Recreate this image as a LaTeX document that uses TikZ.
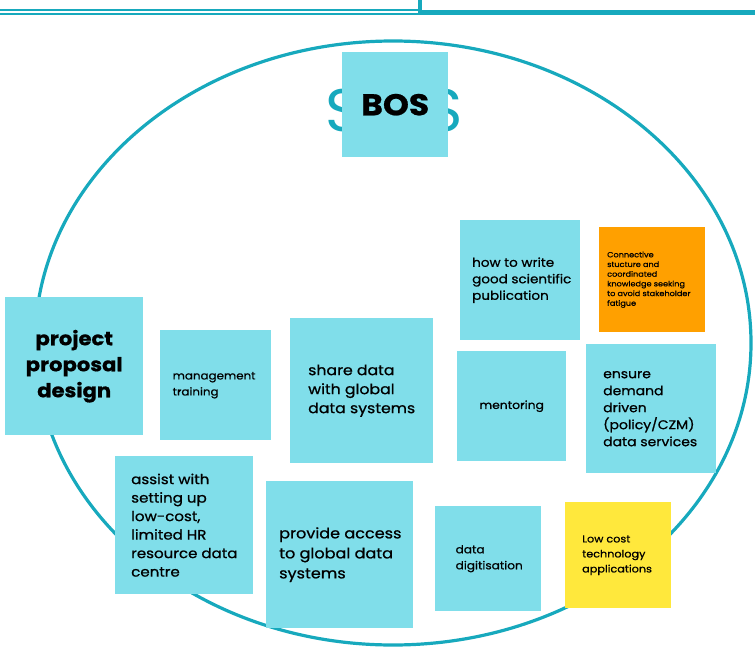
\documentclass[tikz,border=0pt]{standalone}
\usepackage{fontspec}
\setmainfont{Poppins}[FakeStretch=1.1, FakeBold=0.8]
\newfontfamily\lightfont{Poppins}
\usetikzlibrary{positioning}
\definecolor{ringteal}{HTML}{17A9BD}
\definecolor{cardblue}{HTML}{80DEEA}
\definecolor{cardorange}{HTML}{FFA000}
\definecolor{cardyellow}{HTML}{FFE83C}

\begin{document}
\begin{tikzpicture}[x=1pt,y=1pt]
    \tikzstyle{every node}+=[inner sep=0pt]
    \tikzstyle{card}=[fill=cardblue, anchor=north west]
    \tikzstyle{note}=[anchor=west, align=left, text=black]
    \useasboundingbox (0,0) rectangle (755,-656);
    \draw [ringteal, line width=2] (0,-9.5) -- (419,-9.5);
    \draw [ringteal, line width=2] (0,-14) -- (419,-14);
    \draw [ringteal, line width=5] (419,-12.5) -- (755,-12.5);
    \draw [ringteal, line width=4] (419.5,0) -- (419.5,-13);
    \draw [ringteal, line width=3.2] (393,-343) ellipse [x radius=358, y radius=302];
    \node [text=ringteal, font=\fontsize{60}{60}\lightfont] (sleft) at (343.5,-111) {S};
    \node [text=ringteal, font=\fontsize{60}{60}\lightfont] (sright) at (445.5,-111) {S};
    \node [card, minimum width=106, minimum height=105] (bos) at (342,-52) {};
    \node [font=\fontsize{30}{30}\selectfont\bfseries] (bostext) at (bos.center) {BOS};
    \node [card, minimum width=120, minimum height=120] (howto) at (460,-220) {};
    \node [note, font=\fontsize{12.3}{16.5}\selectfont, right=12pt of howto.west] (howtotext) {how to write\\good scientific\\publication};
    \node [card, fill=cardorange, minimum width=106, minimum height=105] (fatigue) at (599,-227) {};
    \node [note, font=\fontsize{7.4}{9.7}\selectfont, right=8pt of fatigue.west] (fatiguetext) {Connective\\stucture and\\coordinated\\knowledge seeking\\to avoid stakeholder\\fatigue};
    \node [card, minimum width=138, minimum height=138] (proposal) at (5,-297) {};
    \node [align=center, font=\fontsize{19.2}{26}\selectfont\bfseries] (proposaltext) at (proposal.center) {project\\proposal\\design};
    \node [card, minimum width=111, minimum height=110] (mgmt) at (160,-330) {};
    \node [note, font=\fontsize{10.8}{16}\selectfont, right=12.5pt of mgmt.west] (mgmttext) {management\\training};
    \node [card, minimum width=143, minimum height=145] (share) at (290,-318) {};
    \node [note, font=\fontsize{14.3}{19}\selectfont, right=18pt of share.west] (sharetext) {share data\\with global\\data systems};
    \node [card, minimum width=109, minimum height=110] (mentor) at (457,-351) {};
    \node [font=\fontsize{11.2}{16}\selectfont] (mentortext) at (mentor.center) {mentoring};
    \node [card, minimum width=130, minimum height=129] (ensure) at (586,-344) {};
    \node [note, font=\fontsize{12.7}{17}\selectfont, right=17pt of ensure.west] (ensuretext) {ensure\\demand\\driven\\(policy/CZM)\\data services};
    \node [card, minimum width=138, minimum height=138] (assist) at (115,-456) {};
    \node [note, font=\fontsize{13.7}{18.5}\selectfont, right=16pt of assist.west] (assisttext) {assist with\\setting up\\low-cost,\\limited HR\\resource data\\centre};
    \node [card, minimum width=147, minimum height=147] (access) at (266,-481) {};
    \node [note, font=\fontsize{14.6}{20}\selectfont, right=13pt of access.west] (accesstext) {provide access\\to global data\\systems};
    \node [card, minimum width=106, minimum height=105] (digit) at (435,-506) {};
    \node [note, font=\fontsize{11}{16}\selectfont, right=20.5pt of digit.west] (digittext) {data\\digitisation};
    \node [card, fill=cardyellow, minimum width=106, minimum height=106] (lowcost) at (565,-502) {};
    \node [note, font=\fontsize{10.2}{15}\selectfont, right=17pt of lowcost.west] (lowcosttext) {Low cost\\technology\\applications};
\end{tikzpicture}
\end{document}
